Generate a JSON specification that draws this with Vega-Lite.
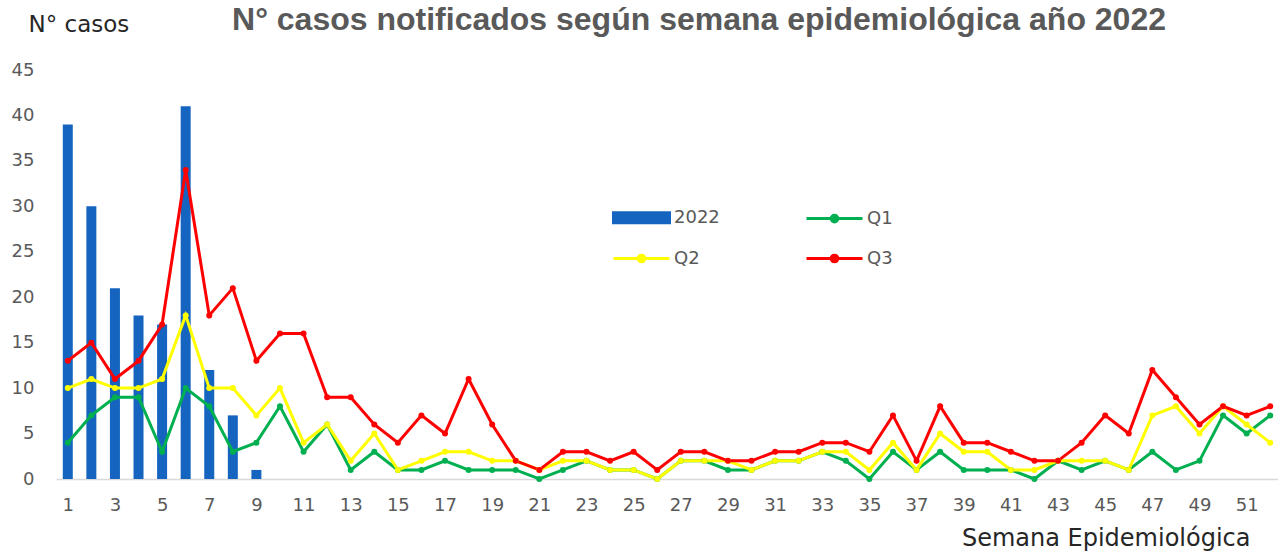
{
  "$schema": "https://vega.github.io/schema/vega-lite/v6.json",
  "autosize": {"type": "none"},
  "width": 1226,
  "height": 409,
  "padding": {"left": 56, "top": 70, "right": 0, "bottom": 73},
  "background": "white",
  "title": {
    "text": "N° casos notificados según semana epidemiológica año 2022",
    "font": "Liberation Sans",
    "fontSize": 32,
    "fontWeight": "bold",
    "color": "#595959",
    "anchor": "middle",
    "baseline": "top",
    "offset": 0,
    "dy": 24,
    "dx": 30
  },
  "config": {
    "view": {"stroke": null},
    "font": "DejaVu Sans"
  },
  "datasets": {
    "bars": [
      {"semana": 1, "serie": "2022", "casos": 39},
      {"semana": 2, "serie": "2022", "casos": 30},
      {"semana": 3, "serie": "2022", "casos": 21},
      {"semana": 4, "serie": "2022", "casos": 18},
      {"semana": 5, "serie": "2022", "casos": 17},
      {"semana": 6, "serie": "2022", "casos": 41},
      {"semana": 7, "serie": "2022", "casos": 12},
      {"semana": 8, "serie": "2022", "casos": 7},
      {"semana": 9, "serie": "2022", "casos": 1}
    ],
    "lines": [
      {"semana":1,"serie":"Q1","casos":4},{"semana":2,"serie":"Q1","casos":7},{"semana":3,"serie":"Q1","casos":9},{"semana":4,"serie":"Q1","casos":9},{"semana":5,"serie":"Q1","casos":3},{"semana":6,"serie":"Q1","casos":10},{"semana":7,"serie":"Q1","casos":8},{"semana":8,"serie":"Q1","casos":3},{"semana":9,"serie":"Q1","casos":4},{"semana":10,"serie":"Q1","casos":8},{"semana":11,"serie":"Q1","casos":3},{"semana":12,"serie":"Q1","casos":6},{"semana":13,"serie":"Q1","casos":1},{"semana":14,"serie":"Q1","casos":3},{"semana":15,"serie":"Q1","casos":1},{"semana":16,"serie":"Q1","casos":1},{"semana":17,"serie":"Q1","casos":2},{"semana":18,"serie":"Q1","casos":1},{"semana":19,"serie":"Q1","casos":1},{"semana":20,"serie":"Q1","casos":1},{"semana":21,"serie":"Q1","casos":0},{"semana":22,"serie":"Q1","casos":1},{"semana":23,"serie":"Q1","casos":2},{"semana":24,"serie":"Q1","casos":1},{"semana":25,"serie":"Q1","casos":1},{"semana":26,"serie":"Q1","casos":0},{"semana":27,"serie":"Q1","casos":2},{"semana":28,"serie":"Q1","casos":2},{"semana":29,"serie":"Q1","casos":1},{"semana":30,"serie":"Q1","casos":1},{"semana":31,"serie":"Q1","casos":2},{"semana":32,"serie":"Q1","casos":2},{"semana":33,"serie":"Q1","casos":3},{"semana":34,"serie":"Q1","casos":2},{"semana":35,"serie":"Q1","casos":0},{"semana":36,"serie":"Q1","casos":3},{"semana":37,"serie":"Q1","casos":1},{"semana":38,"serie":"Q1","casos":3},{"semana":39,"serie":"Q1","casos":1},{"semana":40,"serie":"Q1","casos":1},{"semana":41,"serie":"Q1","casos":1},{"semana":42,"serie":"Q1","casos":0},{"semana":43,"serie":"Q1","casos":2},{"semana":44,"serie":"Q1","casos":1},{"semana":45,"serie":"Q1","casos":2},{"semana":46,"serie":"Q1","casos":1},{"semana":47,"serie":"Q1","casos":3},{"semana":48,"serie":"Q1","casos":1},{"semana":49,"serie":"Q1","casos":2},{"semana":50,"serie":"Q1","casos":7},{"semana":51,"serie":"Q1","casos":5},{"semana":52,"serie":"Q1","casos":7},
      {"semana":1,"serie":"Q2","casos":10},{"semana":2,"serie":"Q2","casos":11},{"semana":3,"serie":"Q2","casos":10},{"semana":4,"serie":"Q2","casos":10},{"semana":5,"serie":"Q2","casos":11},{"semana":6,"serie":"Q2","casos":18},{"semana":7,"serie":"Q2","casos":10},{"semana":8,"serie":"Q2","casos":10},{"semana":9,"serie":"Q2","casos":7},{"semana":10,"serie":"Q2","casos":10},{"semana":11,"serie":"Q2","casos":4},{"semana":12,"serie":"Q2","casos":6},{"semana":13,"serie":"Q2","casos":2},{"semana":14,"serie":"Q2","casos":5},{"semana":15,"serie":"Q2","casos":1},{"semana":16,"serie":"Q2","casos":2},{"semana":17,"serie":"Q2","casos":3},{"semana":18,"serie":"Q2","casos":3},{"semana":19,"serie":"Q2","casos":2},{"semana":20,"serie":"Q2","casos":2},{"semana":21,"serie":"Q2","casos":1},{"semana":22,"serie":"Q2","casos":2},{"semana":23,"serie":"Q2","casos":2},{"semana":24,"serie":"Q2","casos":1},{"semana":25,"serie":"Q2","casos":1},{"semana":26,"serie":"Q2","casos":0},{"semana":27,"serie":"Q2","casos":2},{"semana":28,"serie":"Q2","casos":2},{"semana":29,"serie":"Q2","casos":2},{"semana":30,"serie":"Q2","casos":1},{"semana":31,"serie":"Q2","casos":2},{"semana":32,"serie":"Q2","casos":2},{"semana":33,"serie":"Q2","casos":3},{"semana":34,"serie":"Q2","casos":3},{"semana":35,"serie":"Q2","casos":1},{"semana":36,"serie":"Q2","casos":4},{"semana":37,"serie":"Q2","casos":1},{"semana":38,"serie":"Q2","casos":5},{"semana":39,"serie":"Q2","casos":3},{"semana":40,"serie":"Q2","casos":3},{"semana":41,"serie":"Q2","casos":1},{"semana":42,"serie":"Q2","casos":1},{"semana":43,"serie":"Q2","casos":2},{"semana":44,"serie":"Q2","casos":2},{"semana":45,"serie":"Q2","casos":2},{"semana":46,"serie":"Q2","casos":1},{"semana":47,"serie":"Q2","casos":7},{"semana":48,"serie":"Q2","casos":8},{"semana":49,"serie":"Q2","casos":5},{"semana":50,"serie":"Q2","casos":8},{"semana":51,"serie":"Q2","casos":6},{"semana":52,"serie":"Q2","casos":4},
      {"semana":1,"serie":"Q3","casos":13},{"semana":2,"serie":"Q3","casos":15},{"semana":3,"serie":"Q3","casos":11},{"semana":4,"serie":"Q3","casos":13},{"semana":5,"serie":"Q3","casos":17},{"semana":6,"serie":"Q3","casos":34},{"semana":7,"serie":"Q3","casos":18},{"semana":8,"serie":"Q3","casos":21},{"semana":9,"serie":"Q3","casos":13},{"semana":10,"serie":"Q3","casos":16},{"semana":11,"serie":"Q3","casos":16},{"semana":12,"serie":"Q3","casos":9},{"semana":13,"serie":"Q3","casos":9},{"semana":14,"serie":"Q3","casos":6},{"semana":15,"serie":"Q3","casos":4},{"semana":16,"serie":"Q3","casos":7},{"semana":17,"serie":"Q3","casos":5},{"semana":18,"serie":"Q3","casos":11},{"semana":19,"serie":"Q3","casos":6},{"semana":20,"serie":"Q3","casos":2},{"semana":21,"serie":"Q3","casos":1},{"semana":22,"serie":"Q3","casos":3},{"semana":23,"serie":"Q3","casos":3},{"semana":24,"serie":"Q3","casos":2},{"semana":25,"serie":"Q3","casos":3},{"semana":26,"serie":"Q3","casos":1},{"semana":27,"serie":"Q3","casos":3},{"semana":28,"serie":"Q3","casos":3},{"semana":29,"serie":"Q3","casos":2},{"semana":30,"serie":"Q3","casos":2},{"semana":31,"serie":"Q3","casos":3},{"semana":32,"serie":"Q3","casos":3},{"semana":33,"serie":"Q3","casos":4},{"semana":34,"serie":"Q3","casos":4},{"semana":35,"serie":"Q3","casos":3},{"semana":36,"serie":"Q3","casos":7},{"semana":37,"serie":"Q3","casos":2},{"semana":38,"serie":"Q3","casos":8},{"semana":39,"serie":"Q3","casos":4},{"semana":40,"serie":"Q3","casos":4},{"semana":41,"serie":"Q3","casos":3},{"semana":42,"serie":"Q3","casos":2},{"semana":43,"serie":"Q3","casos":2},{"semana":44,"serie":"Q3","casos":4},{"semana":45,"serie":"Q3","casos":7},{"semana":46,"serie":"Q3","casos":5},{"semana":47,"serie":"Q3","casos":12},{"semana":48,"serie":"Q3","casos":9},{"semana":49,"serie":"Q3","casos":6},{"semana":50,"serie":"Q3","casos":8},{"semana":51,"serie":"Q3","casos":7},{"semana":52,"serie":"Q3","casos":8}
    ]
  },
  "encoding": {
    "x": {
      "field": "semana",
      "type": "quantitative",
      "scale": {"domain": [0.5, 52.5], "nice": false, "zero": false, "padding": 0},
      "axis": {
        "values": [1,3,5,7,9,11,13,15,17,19,21,23,25,27,29,31,33,35,37,39,41,43,45,47,49,51],
        "title": "Semana Epidemiológica",
        "titleFont": "DejaVu Sans",
        "titleFontSize": 24,
        "titleFontWeight": "normal",
        "titleColor": "#262626",
        "titleAnchor": "end",
        "titleAlign": "right",
        "titleBaseline": "alphabetic",
        "titleX": 1194,
        "titleY": 66,
        "labelFont": "DejaVu Sans",
        "labelFontSize": 18,
        "labelColor": "#595959",
        "labelPadding": 17,
        "ticks": false,
        "grid": false,
        "domainColor": "#d9d9d9",
        "domainWidth": 1.5,
        "labelFlush": false,
        "labelOverlap": false
      }
    },
    "y": {
      "field": "casos",
      "type": "quantitative",
      "scale": {"domain": [0, 45], "nice": false},
      "axis": {
        "values": [0,5,10,15,20,25,30,35,40,45],
        "title": "N° casos",
        "titleFont": "DejaVu Sans",
        "titleFontSize": 23,
        "titleFontWeight": "normal",
        "titleColor": "#262626",
        "titleAngle": 0,
        "titleAlign": "left",
        "titleBaseline": "alphabetic",
        "titleX": -28,
        "titleY": -39,
        "labelFont": "DejaVu Sans",
        "labelFontSize": 18,
        "labelColor": "#595959",
        "labelPadding": 22,
        "ticks": false,
        "grid": false,
        "domain": false
      }
    },
    "color": {
      "field": "serie",
      "type": "nominal",
      "scale": {"domain": ["2022", "Q1", "Q2", "Q3"], "range": ["#1565c0", "#00b050", "#ffff00", "#ff0000"]},
      "legend": {
        "title": null,
        "orient": "none",
        "legendX": 556,
        "legendY": 118,
        "columns": 2,
        "columnPadding": 80,
        "rowPadding": -11,
        "values": ["2022", "Q2", "Q1", "Q3"],
        "symbolSize": 3136,
        "labelFont": "DejaVu Sans",
        "labelFontSize": 18,
        "labelColor": "#595959",
        "labelOffset": 3,
        "encode": {
          "symbols": {
            "update": {
              "shape": {"signal": "datum.value === '2022' ? 'M-1,-0.18H1V0.18H-1Z' : 'M-1,0H1M-0.12,0A0.12,0.12 0 1,1 0.12,0A0.12,0.12 0 1,1 -0.12,0Z'"},
              "fill": {"signal": "scale('color', datum.value)"},
              "stroke": {"signal": "datum.value === '2022' ? 'transparent' : scale('color', datum.value)"},
              "strokeWidth": {"value": 3},
              "opacity": {"value": 1},
              "fillOpacity": {"value": 1}
            }
          }
        }
      }
    }
  },
  "layer": [
    {
      "data": {"name": "bars"},
      "mark": {"type": "bar", "size": 10}
    },
    {
      "data": {"name": "lines"},
      "mark": {"type": "line", "strokeWidth": 3, "point": {"filled": true, "size": 36, "opacity": 1}},
      "encoding": {"detail": {"field": "serie"}}
    }
  ]
}
